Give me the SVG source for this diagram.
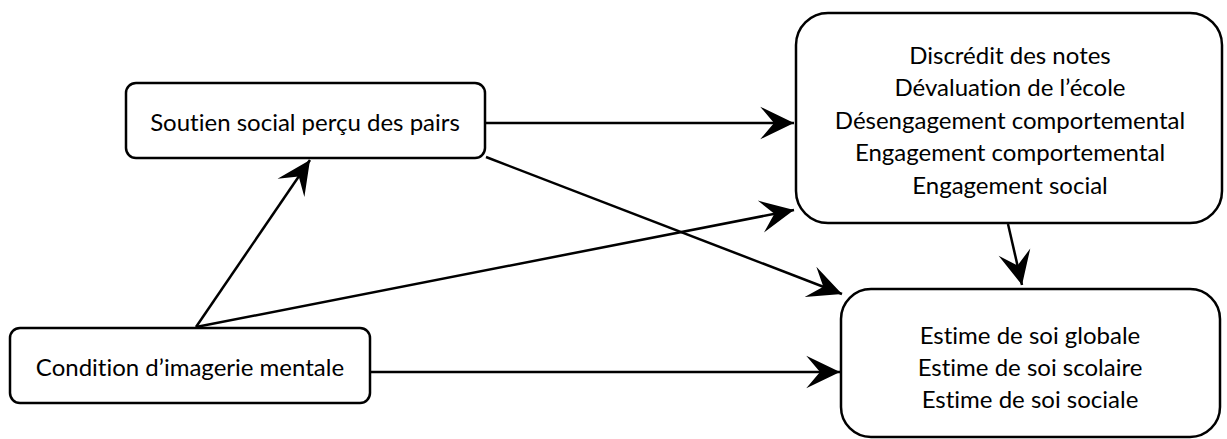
<svg xmlns="http://www.w3.org/2000/svg" width="1227" height="439" viewBox="0 0 1227 439">
<style>
.box{fill:#fff;stroke:#000;stroke-width:2.5}
.t{font-family:Lato,"Liberation Sans",sans-serif;font-size:24px;fill:#000;text-anchor:middle;font-variant-ligatures:none;font-feature-settings:"liga" 0}
.c{stroke:#000;stroke-width:2.5;fill:none;marker-end:url(#ah)}
</style>
<defs>
<marker id="ah" markerUnits="userSpaceOnUse" markerWidth="40" markerHeight="40" viewBox="-30 -15 32 30" refX="0" refY="0" orient="auto">
<path d="M0,0 L-27,-13 L-16,0 L-27,13 Z" fill="#000"/>
</marker>
</defs>
<rect width="1227" height="439" fill="#fff"/>
<g id="connectors">
<line class="c" x1="486" y1="123" x2="794" y2="123"/>
<line class="c" x1="486" y1="157" x2="842" y2="294"/>
<line class="c" x1="196" y1="327" x2="310" y2="160"/>
<line class="c" x1="196" y1="327" x2="794" y2="210"/>
<line class="c" x1="371" y1="372" x2="840" y2="372"/>
<line class="c" x1="1008" y1="224" x2="1022" y2="285"/>
</g>
<g id="soutien">
<rect class="box" x="126" y="83" width="359" height="75" rx="10"/>
<text class="t" x="305" y="131">Soutien social perçu des pairs</text>
</g>
<g id="condition">
<rect class="box" x="10" y="328" width="360" height="75" rx="10"/>
<text class="t" x="190" y="376">Condition d’imagerie mentale</text>
</g>
<g id="engagement">
<rect class="box" x="796" y="13" width="426" height="210" rx="32"/>
<text class="t" x="1010" y="64">Discrédit des notes</text>
<text class="t" x="1010" y="96">Dévaluation de l’école</text>
<text class="t" x="1010" y="129">Désengagement comportemental</text>
<text class="t" x="1010" y="161">Engagement comportemental</text>
<text class="t" x="1010" y="194">Engagement social</text>
</g>
<g id="estime">
<rect class="box" x="841" y="289" width="379" height="148" rx="30"/>
<text class="t" x="1030" y="344">Estime de soi globale</text>
<text class="t" x="1030" y="376">Estime de soi scolaire</text>
<text class="t" x="1030" y="408">Estime de soi sociale</text>
</g>
</svg>
